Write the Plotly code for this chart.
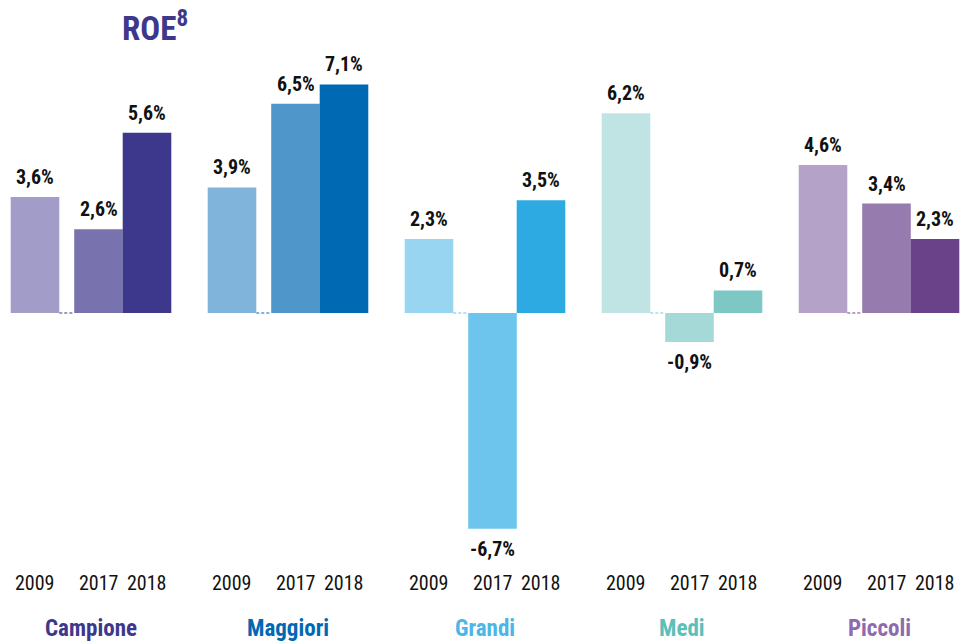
import plotly.graph_objects as go

groups = ["Campione", "Maggiori", "Grandi", "Medi", "Piccoli"]
years = ["2009", "2017", "2018"]
roe = {
    "Campione": [3.6, 2.6, 5.6],
    "Maggiori": [3.9, 6.5, 7.1],
    "Grandi": [2.3, -6.7, 3.5],
    "Medi": [6.2, -0.9, 0.7],
    "Piccoli": [4.6, 3.4, 2.3],
}
bar_colors = {
    "Campione": ["#A29DC8", "#7873AE", "#3D388B"],
    "Maggiori": ["#80B4DA", "#4F97CA", "#0069B4"],
    "Grandi": ["#97D5F0", "#6DC4EC", "#2DAAE1"],
    "Medi": ["#BFE4E3", "#A5D9D7", "#7DC8C5"],
    "Piccoli": ["#B4A2C8", "#957BAE", "#6A428A"],
}
label_colors = {
    "Campione": "#3D388B",
    "Maggiori": "#0069B4",
    "Grandi": "#4CB6E6",
    "Medi": "#5BBFBA",
    "Piccoli": "#8E6AAE",
}
dash_colors = {
    "Campione": "#3D388B",
    "Maggiori": "#0069B4",
    "Grandi": "#6DC4EC",
    "Medi": "#7DC8C5",
    "Piccoli": "#6A428A",
}

W, H = 963, 641
group_step = 197
first_center = 35
offsets = [0, 63.5, 112]
bar_w = 48.6
zero_px = 313
px_per_unit = 32.2

y_max = zero_px / px_per_unit
y_min = -(H - zero_px) / px_per_unit

def fmt(v):
    return ("%.1f%%" % v).replace(".", ",")

fig = go.Figure()
annotations = []
label_font = "Liberation Sans Narrow, Roboto Condensed, DejaVu Sans Condensed, sans-serif"

for gi, g in enumerate(groups):
    base = first_center + gi * group_step
    xs = [base + o for o in offsets]
    vals = roe[g]
    fig.add_trace(go.Bar(
        x=xs, y=vals, width=bar_w,
        marker=dict(color=bar_colors[g], line=dict(width=0)),
        showlegend=False, hoverinfo="skip",
    ))
    # dashed zero connector between 2009 and 2017 bars
    fig.add_trace(go.Scatter(
        x=[xs[0] + bar_w / 2, xs[1] - bar_w / 2], y=[0, 0], mode="lines",
        line=dict(color=dash_colors[g], width=1.2, dash="3px,2px"),
        showlegend=False, hoverinfo="skip",
    ))
    for x, v, yr in zip(xs, vals, years):
        annotations.append(dict(
            x=x, y=v, xref="x", yref="y", text="<b>%s</b>" % fmt(v),
            showarrow=False, yshift=20 if v >= 0 else -20,
            font=dict(size=20, color="#111111", family=label_font),
        ))
        annotations.append(dict(
            x=x, y=(zero_px - 583) / px_per_unit, xref="x", yref="y", text=yr,
            showarrow=False,
            font=dict(size=20, color="#111111", family=label_font),
        ))
    annotations.append(dict(
        x=(xs[0] + xs[-1]) / 2, y=(zero_px - 628) / px_per_unit, xref="x", yref="y",
        text="<b>%s</b>" % g, showarrow=False,
        font=dict(size=23, color=label_colors[g], family=label_font),
    ))

annotations.append(dict(
    x=155, y=(zero_px - 26) / px_per_unit, xref="x", yref="y",
    text="<b>ROE<sup>8</sup></b>", showarrow=False,
    font=dict(size=33, color="#3D388B", family=label_font),
))

fig.update_layout(
    width=W, height=H,
    margin=dict(l=0, r=0, t=0, b=0),
    paper_bgcolor="white", plot_bgcolor="white",
    barmode="overlay",
    xaxis=dict(range=[0, W], visible=False, fixedrange=True),
    yaxis=dict(range=[y_min, y_max], visible=False, fixedrange=True),
    annotations=annotations,
)

fig.write_html(
    "out.html",
    config={"displayModeBar": False, "staticPlot": True},
    post_script="document.body.style.margin='0';document.body.style.overflow='hidden';",
)
